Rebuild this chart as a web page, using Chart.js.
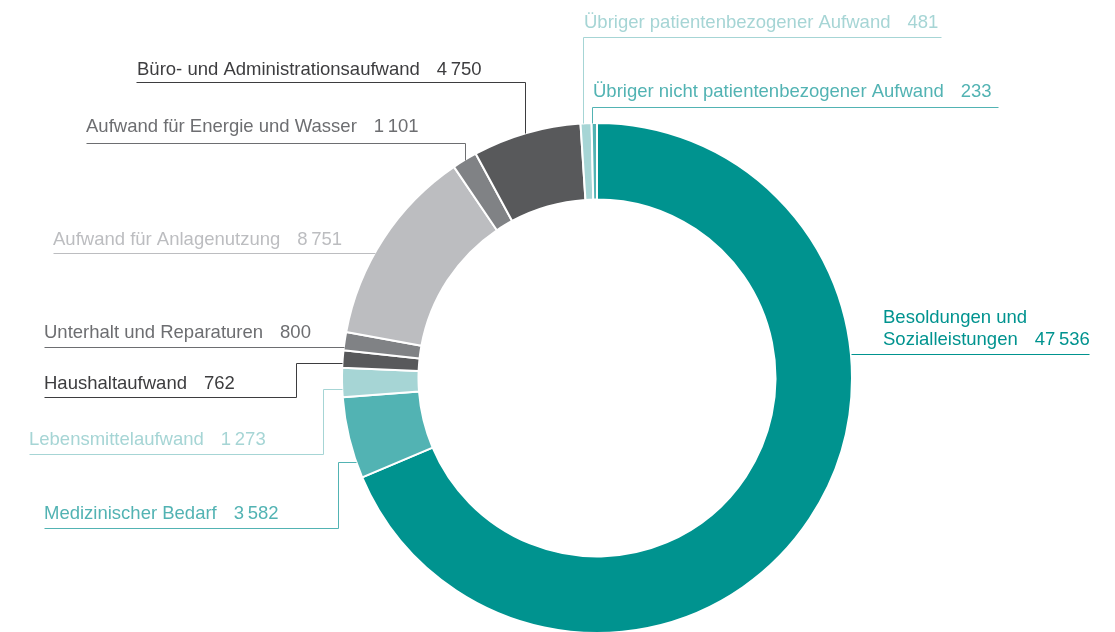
<!DOCTYPE html>
<html lang="de">
<head>
  <meta charset="UTF-8">
  <title>Aufwand</title>
  <script src="https://cdn.jsdelivr.net/npm/chart.js"></script>
  <style>
    html, body {
      margin: 0;
      padding: 0;
      background: #fff;
      overflow: hidden;
    }
    .chart-wrapper {
      position: absolute;
      left: 0;
      top: 0;
      width: 1115px;
      height: 660px;
    }
  </style>
</head>
<body>
  <div class="chart-wrapper">
    <canvas id="costChart"></canvas>
  </div>
  <script>
    // data, clockwise from 12 o'clock
    const labels = [
      'Besoldungen und Sozialleistungen',
      'Medizinischer Bedarf',
      'Lebensmittelaufwand',
      'Haushaltaufwand',
      'Unterhalt und Reparaturen',
      'Aufwand für Anlagenutzung',
      'Aufwand für Energie und Wasser',
      'Büro- und Administrationsaufwand',
      'Übriger patientenbezogener Aufwand',
      'Übriger nicht patientenbezogener Aufwand'
    ];
    const values = [47536, 3582, 1273, 762, 800, 8751, 1101, 4750, 481, 233];
    const sliceColors = ['#00938f', '#52b3b3', '#a6d5d5', '#58595b', '#808285',
                         '#bcbdc0', '#808285', '#58595b', '#a6d5d5', '#52b3b3'];
    const textColors = ['#00938f', '#52b3b3', '#a6d5d5', '#3d3d3f', '#6d6e71',
                        '#bcbdc0', '#6d6e71', '#3d3d3f', '#a6d5d5', '#52b3b3'];

    // label placement: text position, leader path, and where the leader hits the ring
    const labelLayout = [
      { x: 883, y: 323, lines: ['Besoldungen und', 'Sozialleistungen'], path: [[1089, 354]], ring: { y: 354, side: 1 } },
      { x: 44, y: 519, path: [[44, 528], [338, 528], [338, 462]], ring: { y: 462, side: -1 } },
      { x: 29, y: 445, path: [[29, 454], [323, 454], [323, 389]], ring: { y: 389, side: -1 } },
      { x: 44, y: 389, path: [[44, 397], [296, 397], [296, 363]], ring: { y: 363, side: -1 } },
      { x: 44, y: 338, path: [[44, 347]], ring: { y: 347, side: -1 } },
      { x: 53, y: 245, path: [[53, 253]], ring: { y: 253, side: -1 } },
      { x: 86, y: 132, path: [[86, 143], [465, 143]], ring: { x: 465 } },
      { x: 137, y: 75, path: [[136, 82], [525, 82]], ring: { x: 525 } },
      { x: 584, y: 28, path: [[941, 37], [583, 37]], ring: { x: 583 } },
      { x: 593, y: 97, path: [[998, 107], [592, 107]], ring: { x: 592 } }
    ];

    function fmt(n) {
      const s = String(n);
      return s.length > 3 ? s.slice(0, s.length - 3) + '\u2009' + s.slice(-3) : s;
    }

    const leaderLabels = {
      id: 'leaderLabels',
      afterDraw(chart) {
        const ctx = chart.ctx;
        const arc = chart.getDatasetMeta(0).data[0];
        const cx = arc.x, cy = arc.y, r = arc.outerRadius;
        ctx.save();
        ctx.font = '18.5px "Liberation Sans", Arial, sans-serif';
        ctx.textBaseline = 'alphabetic';
        ctx.textAlign = 'left';
        ctx.lineWidth = 1;
        labelLayout.forEach((lay, i) => {
          ctx.fillStyle = textColors[i];
          ctx.strokeStyle = textColors[i];
          const lines = lay.lines || [labels[i]];
          lines.forEach((t, k) => {
            const yy = lay.y + k * 22;
            ctx.fillText(t, lay.x, yy);
            if (k === lines.length - 1) {
              const w = ctx.measureText(t).width + 17;
              ctx.fillText(fmt(values[i]), lay.x + w, yy);
            }
          });
          // leader line
          const pts = lay.path.slice();
          if (lay.ring.x !== undefined) {
            const dx = lay.ring.x - cx;
            pts.push([lay.ring.x, cy - Math.sqrt(r * r - dx * dx)]);
          } else {
            const dy = lay.ring.y - cy;
            pts.push([cx + lay.ring.side * Math.sqrt(r * r - dy * dy), lay.ring.y]);
          }
          ctx.beginPath();
          pts.forEach((p, k) => {
            const px = Math.round(p[0]) + 0.5, py = Math.round(p[1]) + 0.5;
            if (k === 0) ctx.moveTo(px, py); else ctx.lineTo(px, py);
          });
          ctx.stroke();
        });
        ctx.restore();
      }
    };

    new Chart(document.getElementById('costChart'), {
      type: 'doughnut',
      data: {
        labels: labels,
        datasets: [{
          data: values,
          backgroundColor: sliceColors,
          borderColor: '#ffffff',
          borderWidth: 2
        }]
      },
      options: {
        responsive: true,
        maintainAspectRatio: false,
        animation: false,
        cutout: '70%',
        layout: {
          padding: { left: 341, right: 262, top: 122, bottom: 26 }
        },
        plugins: {
          legend: { display: false },
          tooltip: { enabled: false }
        }
      },
      plugins: [leaderLabels]
    });
  </script>
</body>
</html>
